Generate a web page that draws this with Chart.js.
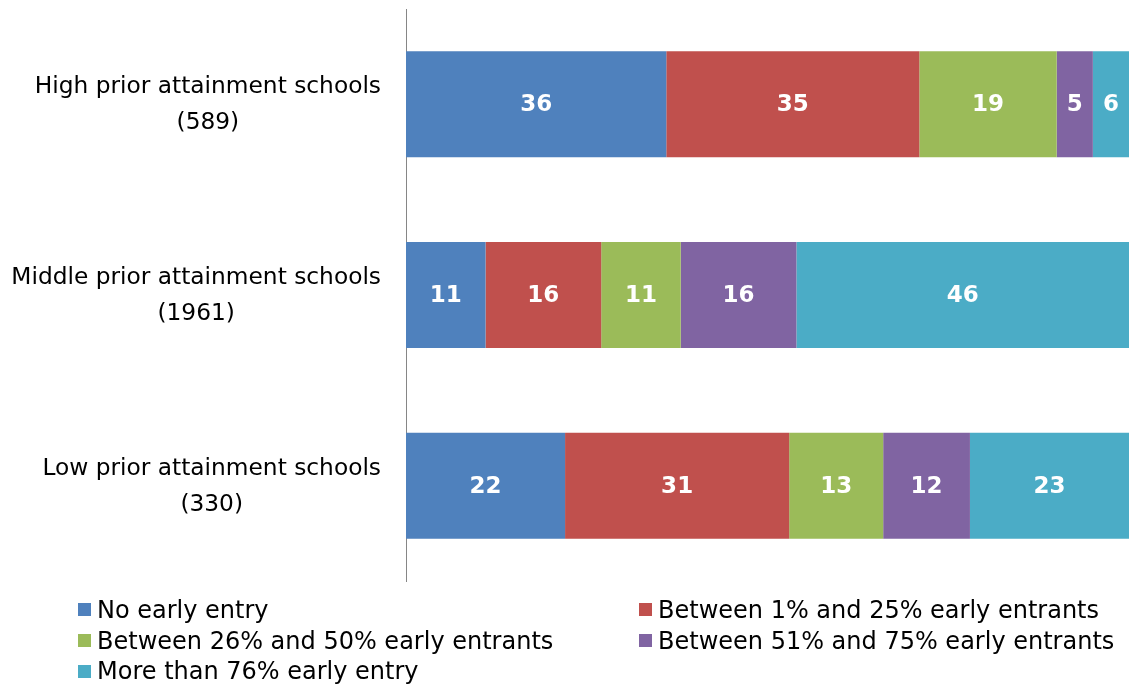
<!DOCTYPE html>
<html>
<head>
<meta charset="utf-8">
<script src="https://cdn.jsdelivr.net/npm/chart.js@4/dist/chart.umd.min.js"></script>
<style>
  html, body { margin: 0; padding: 0; background: #fff; }
  #wrap { position: relative; width: 1129px; height: 685px; }
  canvas { position: absolute; left: 0; top: 0; }
  .lg { position: absolute; font-family: "DejaVu Sans", sans-serif; font-size: 24px; color: #000; white-space: nowrap; line-height: 1; }
  .lg .sw { position: absolute; width: 13px; height: 13px; left: 0; top: 50%; margin-top: -6.5px; }
  .lg .tx { position: absolute; top: 50%; transform: translateY(-50%); }
</style>
</head>
<body>
<div id="wrap">
  <canvas id="c" width="1129" height="685"></canvas>
  <div id="legend"></div>
</div>
<script>
const categories = [
  ["High prior attainment schools", "(589)"],
  ["Middle prior attainment schools", "(1961)"],
  ["Low prior attainment schools", "(330)"]
];
const seriesNames = [
  "No early entry",
  "Between 1% and 25% early entrants",
  "Between 26% and 50% early entrants",
  "Between 51% and 75% early entrants",
  "More than 76% early entry"
];
const noEarly   = [36, 11, 22];
const pct1to25  = [35, 16, 31];
const pct26to50 = [19, 11, 13];
const pct51to75 = [5, 16, 12];
const pct76plus = [6, 46, 23];
const colors = ["#4F81BD", "#C0504D", "#9BBB59", "#8064A2", "#4BACC6"];

const FONT = '"DejaVu Sans", sans-serif';

const seriesValues = [noEarly, pct1to25, pct26to50, pct51to75, pct76plus];

const labelPlugin = {
  id: 'segLabels',
  afterDatasetsDraw(chart) {
    const ctx = chart.ctx;
    const area = chart.chartArea;
    ctx.save();
    ctx.fillStyle = '#fff';
    ctx.font = 'bold 23px ' + FONT;
    ctx.textAlign = 'center';
    ctx.textBaseline = 'middle';
    chart.data.datasets.forEach((ds, i) => {
      const meta = chart.getDatasetMeta(i);
      meta.data.forEach((el, j) => {
        const x1 = Math.max(Math.min(el.base, el.x), area.left);
        const x2 = Math.min(Math.max(el.base, el.x), area.right);
        ctx.fillText(String(ds.data[j]), (x1 + x2) / 2, el.y + 1);
      });
    });
    ctx.restore();
  }
};

const yLabelPlugin = {
  id: 'yLabels',
  afterDraw(chart) {
    const ctx = chart.ctx;
    const ys = chart.scales.y;
    ctx.save();
    ctx.fillStyle = '#000';
    ctx.font = '23.3px ' + FONT;
    ctx.textAlign = 'center';
    ctx.textBaseline = 'middle';
    categories.forEach((lines, i) => {
      const yc = ys.getPixelForValue(i) + 1;
      const w = Math.max(...lines.map(l => ctx.measureText(l).width));
      const right = 381;
      const cx = right - w / 2;
      const lh = 36;
      lines.forEach((l, k) => {
        ctx.fillText(l, cx, yc + (k - (lines.length - 1) / 2) * lh);
      });
    });
    ctx.restore();
  }
};

new Chart(document.getElementById('c'), {
  type: 'bar',
  data: {
    labels: categories,
    datasets: seriesNames.map((n, i) => ({
      label: n,
      data: seriesValues[i],
      backgroundColor: colors[i],
      borderWidth: 0,
      categoryPercentage: 1.0,
      barPercentage: 0.556
    }))
  },
  options: {
    indexAxis: 'y',
    responsive: false,
    animation: false,
    layout: { padding: { top: 9, bottom: 104, left: 0, right: 0 } },
    plugins: {
      legend: { display: false },
      tooltip: { enabled: false }
    },
    scales: {
      x: { stacked: true, min: 0, max: 100, display: false },
      y: {
        stacked: true,
        grid: { display: false, drawTicks: false },
        border: { display: true, color: '#868686', width: 1 },
        ticks: { display: false },
        afterFit(s) { s.width = 406; }
      }
    }
  },
  plugins: [labelPlugin, yLabelPlugin]
});

// HTML legend
const legendPos = [
  [78, 609.5], [639, 609.5],
  [78, 640.5], [639, 640.5],
  [78, 671]
];
const lgRoot = document.getElementById('legend');
seriesNames.forEach((n, i) => {
  const d = document.createElement('div');
  d.className = 'lg';
  d.style.left = legendPos[i][0] + 'px';
  d.style.top = (legendPos[i][1] - 15) + 'px';
  d.style.height = '30px';
  d.style.width = '500px';
  const sw = document.createElement('span');
  sw.className = 'sw';
  sw.style.background = colors[i];
  const tx = document.createElement('span');
  tx.className = 'tx';
  tx.style.left = '19px';
  tx.textContent = n;
  d.appendChild(sw);
  d.appendChild(tx);
  lgRoot.appendChild(d);
});
</script>
</body>
</html>
